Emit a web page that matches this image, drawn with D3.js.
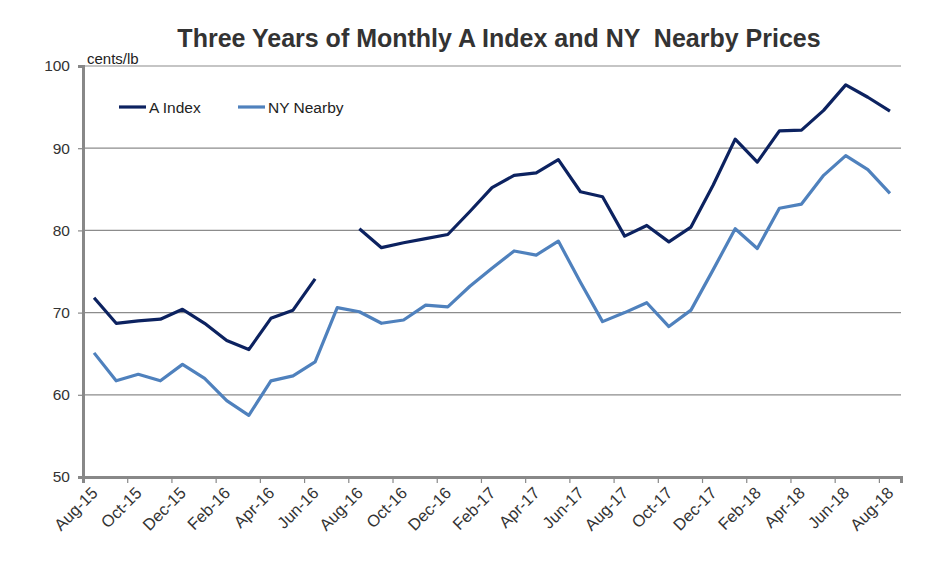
<!DOCTYPE html>
<html>
<head>
<meta charset="utf-8">
<script src="https://cdn.jsdelivr.net/npm/d3@7"></script>
<style>
  body { margin: 0; background: #fff; }
  svg { font-family: "Liberation Sans", Arial, sans-serif; }
</style>
</head>
<body>
<svg id="chart" width="950" height="565"></svg>
<script>
// months on the category axis
var months = ['Aug-15','Sep-15','Oct-15','Nov-15','Dec-15','Jan-16','Feb-16','Mar-16','Apr-16','May-16','Jun-16','Jul-16',
              'Aug-16','Sep-16','Oct-16','Nov-16','Dec-16','Jan-17','Feb-17','Mar-17','Apr-17','May-17','Jun-17','Jul-17',
              'Aug-17','Sep-17','Oct-17','Nov-17','Dec-17','Jan-18','Feb-18','Mar-18','Apr-18','May-18','Jun-18','Jul-18','Aug-18'];

// cents/lb, null = no value
var aIndex = [71.8, 68.7, 69.0, 69.2, 70.4, 68.7, 66.6, 65.5, 69.3, 70.3, 74.1, null,
              80.2, 77.9, 78.5, 79.0, 79.5, 82.3, 85.2, 86.7, 87.0, 88.6, 84.7, 84.1,
              79.3, 80.6, 78.6, 80.4, 85.5, 91.1, 88.3, 92.1, 92.2, 94.6, 97.7, 96.2, 94.5];

var nyNearby = [65.1, 61.7, 62.5, 61.7, 63.7, 62.0, 59.3, 57.5, 61.7, 62.3, 64.0, 70.6,
                70.1, 68.7, 69.1, 70.9, 70.7, 73.2, 75.4, 77.5, 77.0, 78.7, 73.7, 68.9,
                70.0, 71.2, 68.3, 70.3, 75.2, 80.2, 77.8, 82.7, 83.2, 86.7, 89.1, 87.4, 84.5];

var yTicks = [50, 60, 70, 80, 90, 100];

(function() {
    var svg = d3.select('#chart');

    var m = { left: 83, right: 901, top: 66, bottom: 477 };

    var x = d3.scaleLinear().domain([0, months.length]).range([m.left, m.right]);
    var y = d3.scaleLinear().domain([50, 100]).range([m.bottom, m.top]);

    // title
    svg.append('text')
        .attr('x', 499).attr('y', 47)
        .attr('text-anchor', 'middle')
        .style('white-space', 'pre')
        .attr('font-size', 25).attr('font-weight', 'bold')
        .attr('fill', '#333')
        .text('Three Years of Monthly A Index and NY  Nearby Prices');

    // gridlines
    svg.append('g')
        .selectAll('line')
        .data(yTicks.slice(1))
        .join('line')
        .attr('x1', m.left).attr('x2', m.right)
        .attr('y1', function(d) { return y(d); })
        .attr('y2', function(d) { return y(d); })
        .attr('stroke', '#8c8c8c').attr('stroke-width', 1.2);

    // y axis
    var yAxis = svg.append('g')
        .attr('transform', 'translate(' + m.left + ',0)')
        .call(d3.axisLeft(y).tickValues(yTicks).tickSize(5).tickPadding(8));
    yAxis.select('.domain').attr('stroke', '#888').attr('stroke-width', 3);
    yAxis.selectAll('.tick line').attr('stroke', '#888').attr('stroke-width', 1.2);
    yAxis.selectAll('.tick text')
        .attr('font-size', 15.5).attr('fill', '#333')
        .attr('font-family', '"Liberation Sans", Arial, sans-serif');

    // x axis, ticks between categories every two months
    var xAxis = svg.append('g')
        .attr('transform', 'translate(0,' + m.bottom + ')')
        .call(d3.axisBottom(x).tickValues(d3.range(0, months.length, 2)).tickSize(6).tickFormat(''));
    xAxis.select('.domain').attr('stroke', '#888').attr('stroke-width', 3);
    xAxis.selectAll('.tick line').attr('stroke', '#888').attr('stroke-width', 1.2);

    svg.append('g')
        .selectAll('text')
        .data(months.filter(function(d, i) { return i % 2 === 0; }))
        .join('text')
        .attr('transform', function(d) {
            var i = months.indexOf(d);
            return 'translate(' + (x(i + 0.5) + 0.5) + ',' + (m.bottom + 13) + ') rotate(-45)';
        })
        .attr('text-anchor', 'end')
        .attr('dy', '0.35em')
        .attr('font-size', 16.5).attr('fill', '#333')
        .text(function(d) { return d; });

    // unit label
    svg.append('text')
        .attr('x', 87).attr('y', 64)
        .attr('font-size', 15).attr('fill', '#222')
        .text('cents/lb');

    // lines
    var line = d3.line()
        .defined(function(d) { return d != null; })
        .x(function(d, i) { return x(i + 0.5); })
        .y(function(d) { return y(d); });

    var series = [
        { name: 'A Index', values: aIndex, color: '#0c2260' },
        { name: 'NY Nearby', values: nyNearby, color: '#4f81bd' }
    ];

    svg.append('g')
        .selectAll('path')
        .data(series)
        .join('path')
        .attr('d', function(s) { return line(s.values); })
        .attr('fill', 'none')
        .attr('stroke', function(s) { return s.color; })
        .attr('stroke-width', 3.2)
        .attr('stroke-linejoin', 'round');

    // legend
    var legX = [119, 238];
    var leg = svg.append('g')
        .selectAll('g')
        .data(series)
        .join('g')
        .attr('transform', function(s, i) { return 'translate(' + legX[i] + ',107)'; });
    leg.append('line')
        .attr('x1', 0).attr('x2', 27)
        .attr('stroke', function(s) { return s.color; })
        .attr('stroke-width', 3.2);
    leg.append('text')
        .attr('x', 30).attr('y', 5.5)
        .attr('font-size', 15.5).attr('fill', '#222')
        .text(function(s) { return s.name; });
})();
</script>
</body>
</html>
